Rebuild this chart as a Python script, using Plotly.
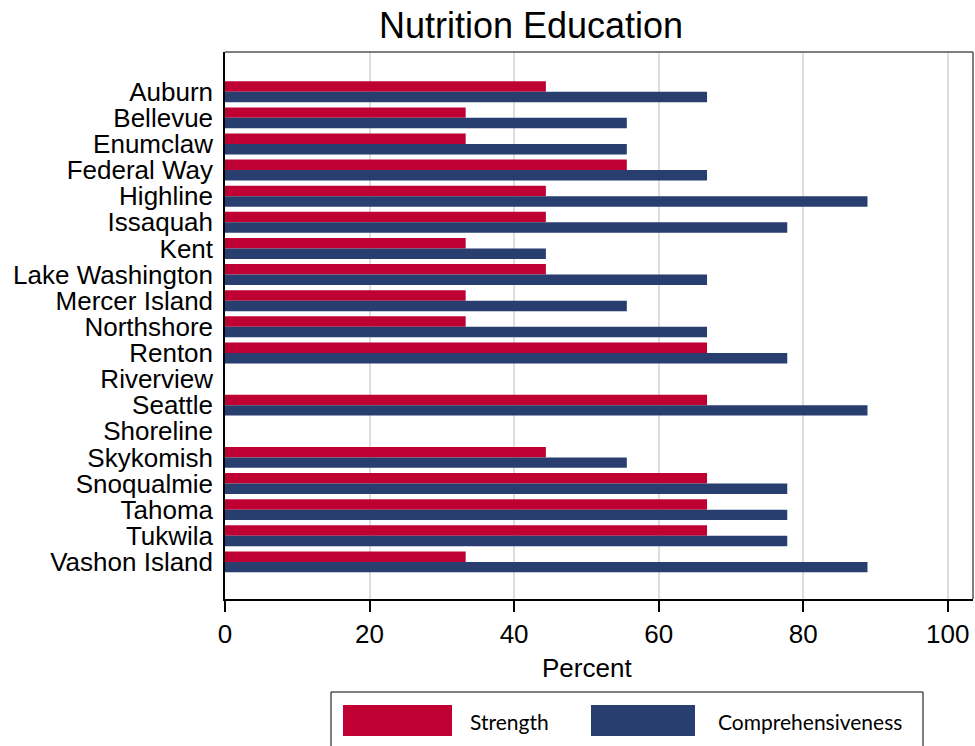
import plotly.graph_objects as go

districts = ["Auburn", "Bellevue", "Enumclaw", "Federal Way", "Highline", "Issaquah", "Kent",
             "Lake Washington", "Mercer Island", "Northshore", "Renton", "Riverview", "Seattle",
             "Shoreline", "Skykomish", "Snoqualmie", "Tahoma", "Tukwila", "Vashon Island"]
strength = [44.4, 33.3, 33.3, 55.6, 44.4, 44.4, 33.3, 44.4, 33.3, 33.3, 66.7, None, 66.7,
            None, 44.4, 66.7, 66.7, 66.7, 33.3]
comprehensiveness = [66.7, 55.6, 55.6, 66.7, 88.9, 77.8, 44.4, 66.7, 55.6, 66.7, 77.8, None, 88.9,
                     None, 55.6, 77.8, 77.8, 77.8, 88.9]
series_names = ["Strength", "Comprehensiveness"]
colors = ["#BE0032", "#283E6E"]
x_ticks = [0, 20, 40, 60, 80, 100]

pos = list(range(len(districts)))

fig = go.Figure()
fig.add_trace(go.Bar(y=pos, x=strength, orientation="h", name=series_names[0],
                     marker=dict(color=colors[0], line=dict(width=0)), showlegend=False))
fig.add_trace(go.Bar(y=pos, x=comprehensiveness, orientation="h", name=series_names[1],
                     marker=dict(color=colors[1], line=dict(width=0)), showlegend=False))

W, H = 975, 746
ml, mr, mt, mb = 225, 2, 52, 746 - 599
pw, ph = W - ml - mr, H - mt - mb

def px_x(sx):
    return (sx - ml) / pw

def px_y(sy):
    return (H - mb - sy) / ph

FONT = "Liberation Sans, Arial, sans-serif"

fig.update_layout(
    width=W, height=H,
    margin=dict(l=ml, r=mr, t=mt, b=mb, pad=0),
    paper_bgcolor="white", plot_bgcolor="white",
    barmode="group", bargap=0.2, bargroupgap=0,
    font=dict(family=FONT, color="black", size=26),
    title=dict(text="Nutrition Education", x=px_x(531), xref="paper", xanchor="center",
               y=1 - 25 / H, yanchor="middle", yref="container",
               font=dict(size=36, family=FONT, color="black")),
    xaxis=dict(range=[0, 103.5], tickvals=x_ticks, ticktext=[str(t) for t in x_ticks],
               showgrid=True, gridcolor="#DDDDDD", gridwidth=2,
               showline=True, linecolor="black", linewidth=1.5, mirror=False,
               ticks="outside", ticklen=11, tickcolor="black", tickwidth=1.5,
               tickfont=dict(size=26), zeroline=False, automargin=False),
    yaxis=dict(range=[len(districts) - 1 + 1.42, -1.52], tickvals=pos, ticktext=districts,
               showgrid=False, showline=True, linecolor="black", linewidth=1.5,
               ticks="", ticklabelstandoff=5, tickfont=dict(size=26), zeroline=False,
               automargin=False),
    shapes=[
        # top and right frame of the plot area
        dict(type="line", xref="paper", yref="paper", x0=0, x1=1, y0=1, y1=1,
             line=dict(color="#555555", width=1.5)),
        dict(type="line", xref="paper", yref="paper", x0=1, x1=1, y0=0, y1=1,
             line=dict(color="#555555", width=1.5)),
        # legend box
        dict(type="rect", xref="paper", yref="paper", x0=px_x(331), x1=px_x(923),
             y0=px_y(752), y1=px_y(692), line=dict(color="black", width=1), fillcolor="white"),
        dict(type="rect", xref="paper", yref="paper", x0=px_x(343), x1=px_x(452),
             y0=px_y(736), y1=px_y(705), line=dict(color=colors[0], width=0), fillcolor=colors[0]),
        dict(type="rect", xref="paper", yref="paper", x0=px_x(591), x1=px_x(695),
             y0=px_y(736), y1=px_y(705), line=dict(color=colors[1], width=0), fillcolor=colors[1]),
    ],
    annotations=[
        dict(text="Percent", xref="paper", yref="paper", x=px_x(587), y=px_y(668),
             xanchor="center", yanchor="middle", showarrow=False,
             font=dict(family=FONT, size=26, color="black")),
        dict(text=series_names[0], xref="paper", yref="paper", x=px_x(468), y=px_y(721),
             xanchor="left", yanchor="middle", showarrow=False,
             font=dict(family="Lato, Carlito, sans-serif", size=21, color="black")),
        dict(text=series_names[1], xref="paper", yref="paper", x=px_x(716), y=px_y(721),
             xanchor="left", yanchor="middle", showarrow=False,
             font=dict(family="Lato, Carlito, sans-serif", size=21, color="black")),
    ],
)

fig.write_html(
    "out.html",
    config={"displayModeBar": False},
    post_script="document.body.style.margin='0';document.body.style.overflow='hidden';",
)
